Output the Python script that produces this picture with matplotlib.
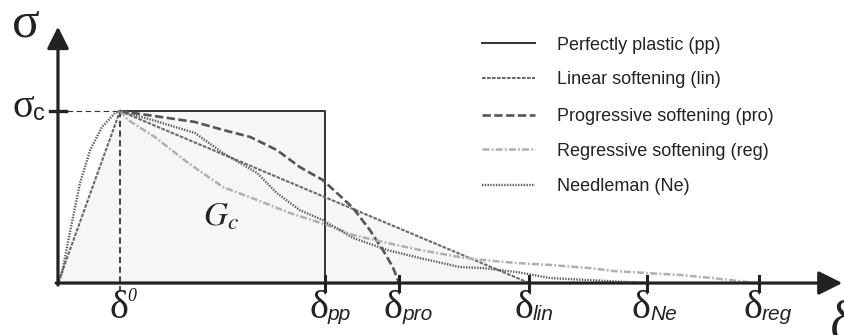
import numpy as np
import matplotlib
matplotlib.use("Agg")
import matplotlib.pyplot as plt

plt.rcParams["lines.scale_dashes"] = False
plt.rcParams["mathtext.fontset"] = "stix"

# ---------------------------------------------------------------------------
# Data (delta in units of delta0, sigma in units of sigma_c)
# ---------------------------------------------------------------------------
d0 = 1.0
d_pp, d_pro, d_lin, d_ne, d_reg = 4.3, 5.5, 7.6, 9.5, 11.3
tick_pos = [d_pp, d_pro, d_lin, d_ne, d_reg]
tick_sub = ["pp", "pro", "lin", "Ne", "reg"]

# rising branch
rise_x = [0.0, d0]
rise_y = [0.0, 1.0]
ne_rise_x = [0.0, 0.065, 0.19, 0.355, 0.52, 0.71, 0.92, 1.0]
ne_rise_y = [0.0, 0.058, 0.29, 0.58, 0.773, 0.907, 0.988, 1.0]

# softening branches
pp_x = [d0, d_pp, d_pp]
pp_y = [1.0, 1.0, 0.0]

lin_x = [d0, d_lin]
lin_y = [1.0, 0.0]

pro_x = [1.0, 2.21, 2.66, 3.10, 3.53, 3.90, 4.27, 4.50, 4.76, 5.03, 5.24, 5.40, 5.50]
pro_y = [1.0, 0.936, 0.89, 0.849, 0.773, 0.674, 0.599, 0.523, 0.436, 0.308, 0.192, 0.093, 0.0]

ne_x = [1.0, 1.5, 2.21, 2.66, 3.21, 3.53, 3.90, 4.27, 4.76, 5.31, 5.84, 6.48, 6.85, 7.40,
        7.94, 8.58, 9.0, 9.5]
ne_y = [1.0, 0.95, 0.872, 0.756, 0.64, 0.523, 0.424, 0.366, 0.262, 0.192, 0.145, 0.093,
        0.087, 0.064, 0.029, 0.017, 0.009, 0.0]

reg_x = [1.0, 1.13, 1.56, 2.10, 2.66, 3.21, 3.74, 4.34, 4.76, 5.31, 5.84, 6.48, 6.85, 7.40,
         7.94, 8.58, 8.95, 9.5, 10.03, 10.56, 11.11, 11.3]
reg_y = [1.0, 0.948, 0.849, 0.698, 0.558, 0.483, 0.407, 0.337, 0.279, 0.233, 0.192, 0.151,
         0.134, 0.116, 0.105, 0.087, 0.07, 0.058, 0.047, 0.029, 0.006, 0.0]

legend_labels = ["Perfectly plastic (pp)", "Linear softening (lin)",
                 "Progressive softening (pro)", "Regressive softening (reg)",
                 "Needleman (Ne)"]

# ---------------------------------------------------------------------------
# Styles
# ---------------------------------------------------------------------------
AX_COL = "#222222"
styles = [
    dict(color="#333333", lw=1.4, linestyle="-"),
    dict(color="#6a6a6a", lw=1.5, dashes=(2.6, 1.0)),
    dict(color="#555555", lw=1.9, dashes=(6.0, 2.5)),
    dict(color="#b0b0b0", lw=1.8, dashes=(5.0, 1.6, 1.3, 1.6)),
    dict(color="#5a5a5a", lw=1.7, dashes=(1.0, 1.0)),
]

fig = plt.figure(figsize=(8.44, 3.35), dpi=100)
ax = fig.add_axes([0, 0, 1, 1])
ax.set_xlim(-0.935, 12.677)
ax.set_ylim(-0.302, 1.645)
ax.axis("off")

# fracture energy area
lin_at_pp = 1.0 - (d_pp - d0) / (d_lin - d0)
ax.fill([0, d0, d_pp, d_pp, d_lin], [0, 1, 1, lin_at_pp, 0],
        color="#f6f6f6", lw=0, zorder=0)

# guide lines
ax.plot([0, d0], [1, 1], color="#333333", lw=0.8, dashes=(4, 2.5), zorder=1)
ax.plot([d0, d0], [1, -0.045], color="#222222", lw=1.2, dashes=(4.5, 2.5), zorder=1)

# curves
ax.plot(rise_x, rise_y, zorder=3, **styles[1])
ax.plot(ne_rise_x, ne_rise_y, zorder=3, **styles[4])
ax.plot(pp_x, pp_y, zorder=2, **styles[0])
ax.plot(lin_x, lin_y, zorder=3, **styles[1])
ax.plot(pro_x, pro_y, zorder=3, **styles[2])
ax.plot(reg_x, reg_y, zorder=3, **styles[3])
ax.plot(ne_x, ne_y, zorder=3, **styles[4])

# axes with arrows
ax.annotate("", xy=(12.65, 0), xytext=(-0.03, 0),
            arrowprops=dict(arrowstyle="-|>,head_length=0.4,head_width=0.2",
                            mutation_scale=36, lw=2.3, color=AX_COL,
                            shrinkA=0, shrinkB=0), zorder=5)
ax.annotate("", xy=(0, 1.49), xytext=(0, -0.012),
            arrowprops=dict(arrowstyle="-|>,head_length=0.4,head_width=0.2",
                            mutation_scale=33, lw=2.3, color=AX_COL,
                            shrinkA=0, shrinkB=0), zorder=5)

# ticks
for xt in tick_pos:
    ax.plot([xt, xt], [0.04, -0.045], color=AX_COL, lw=2.2, zorder=6)
ax.plot([-0.13, 0.13], [1, 1], color=AX_COL, lw=2.4, zorder=6)

# tick labels
serif = "Liberation Serif"
sans = "Liberation Sans"
for xt, sub in zip(tick_pos, tick_sub):
    ax.text(xt + 0.06, -0.205, "δ", family=serif, fontsize=29,
            ha="right", va="baseline", color=AX_COL)
    ax.text(xt + 0.05, -0.215, sub, family=sans, style="italic", fontsize=15,
            ha="left", va="baseline", color=AX_COL)
ax.text(d0 + 0.14, -0.205, "δ", family=serif, fontsize=29,
        ha="right", va="baseline", color=AX_COL)
ax.text(d0 + 0.12, -0.105, "0", family=serif, style="italic",
        fontsize=13, ha="left", va="baseline", color=AX_COL)

# axis labels
ax.text(-0.74, 1.43, "σ", family=serif, fontsize=37, ha="left", va="baseline",
        color=AX_COL)
ax.text(-0.74, 0.965, "σ", family=serif, fontsize=29, ha="left", va="baseline",
        color=AX_COL)
ax.text(-0.41, 0.95, "c", family=sans, fontsize=17, ha="left", va="baseline",
        color=AX_COL)
ax.text(12.45, -0.33, "δ", family=serif, fontsize=40, ha="left", va="baseline",
        color=AX_COL)

# fracture energy label
ax.text(2.34, 0.337, "$G_c$", fontsize=24, ha="left", va="baseline", color=AX_COL)

# legend drawn by hand
leg_y = [1.395, 1.192, 0.977, 0.779, 0.570]
for yy, lab, st in zip(leg_y, legend_labels, styles):
    ax.plot([6.84, 7.69], [yy, yy], **st)
    ax.text(8.05, yy, lab, family=sans, fontsize=13, ha="left",
            va="center_baseline", color=AX_COL)

fig.savefig("out.png", dpi=100)
